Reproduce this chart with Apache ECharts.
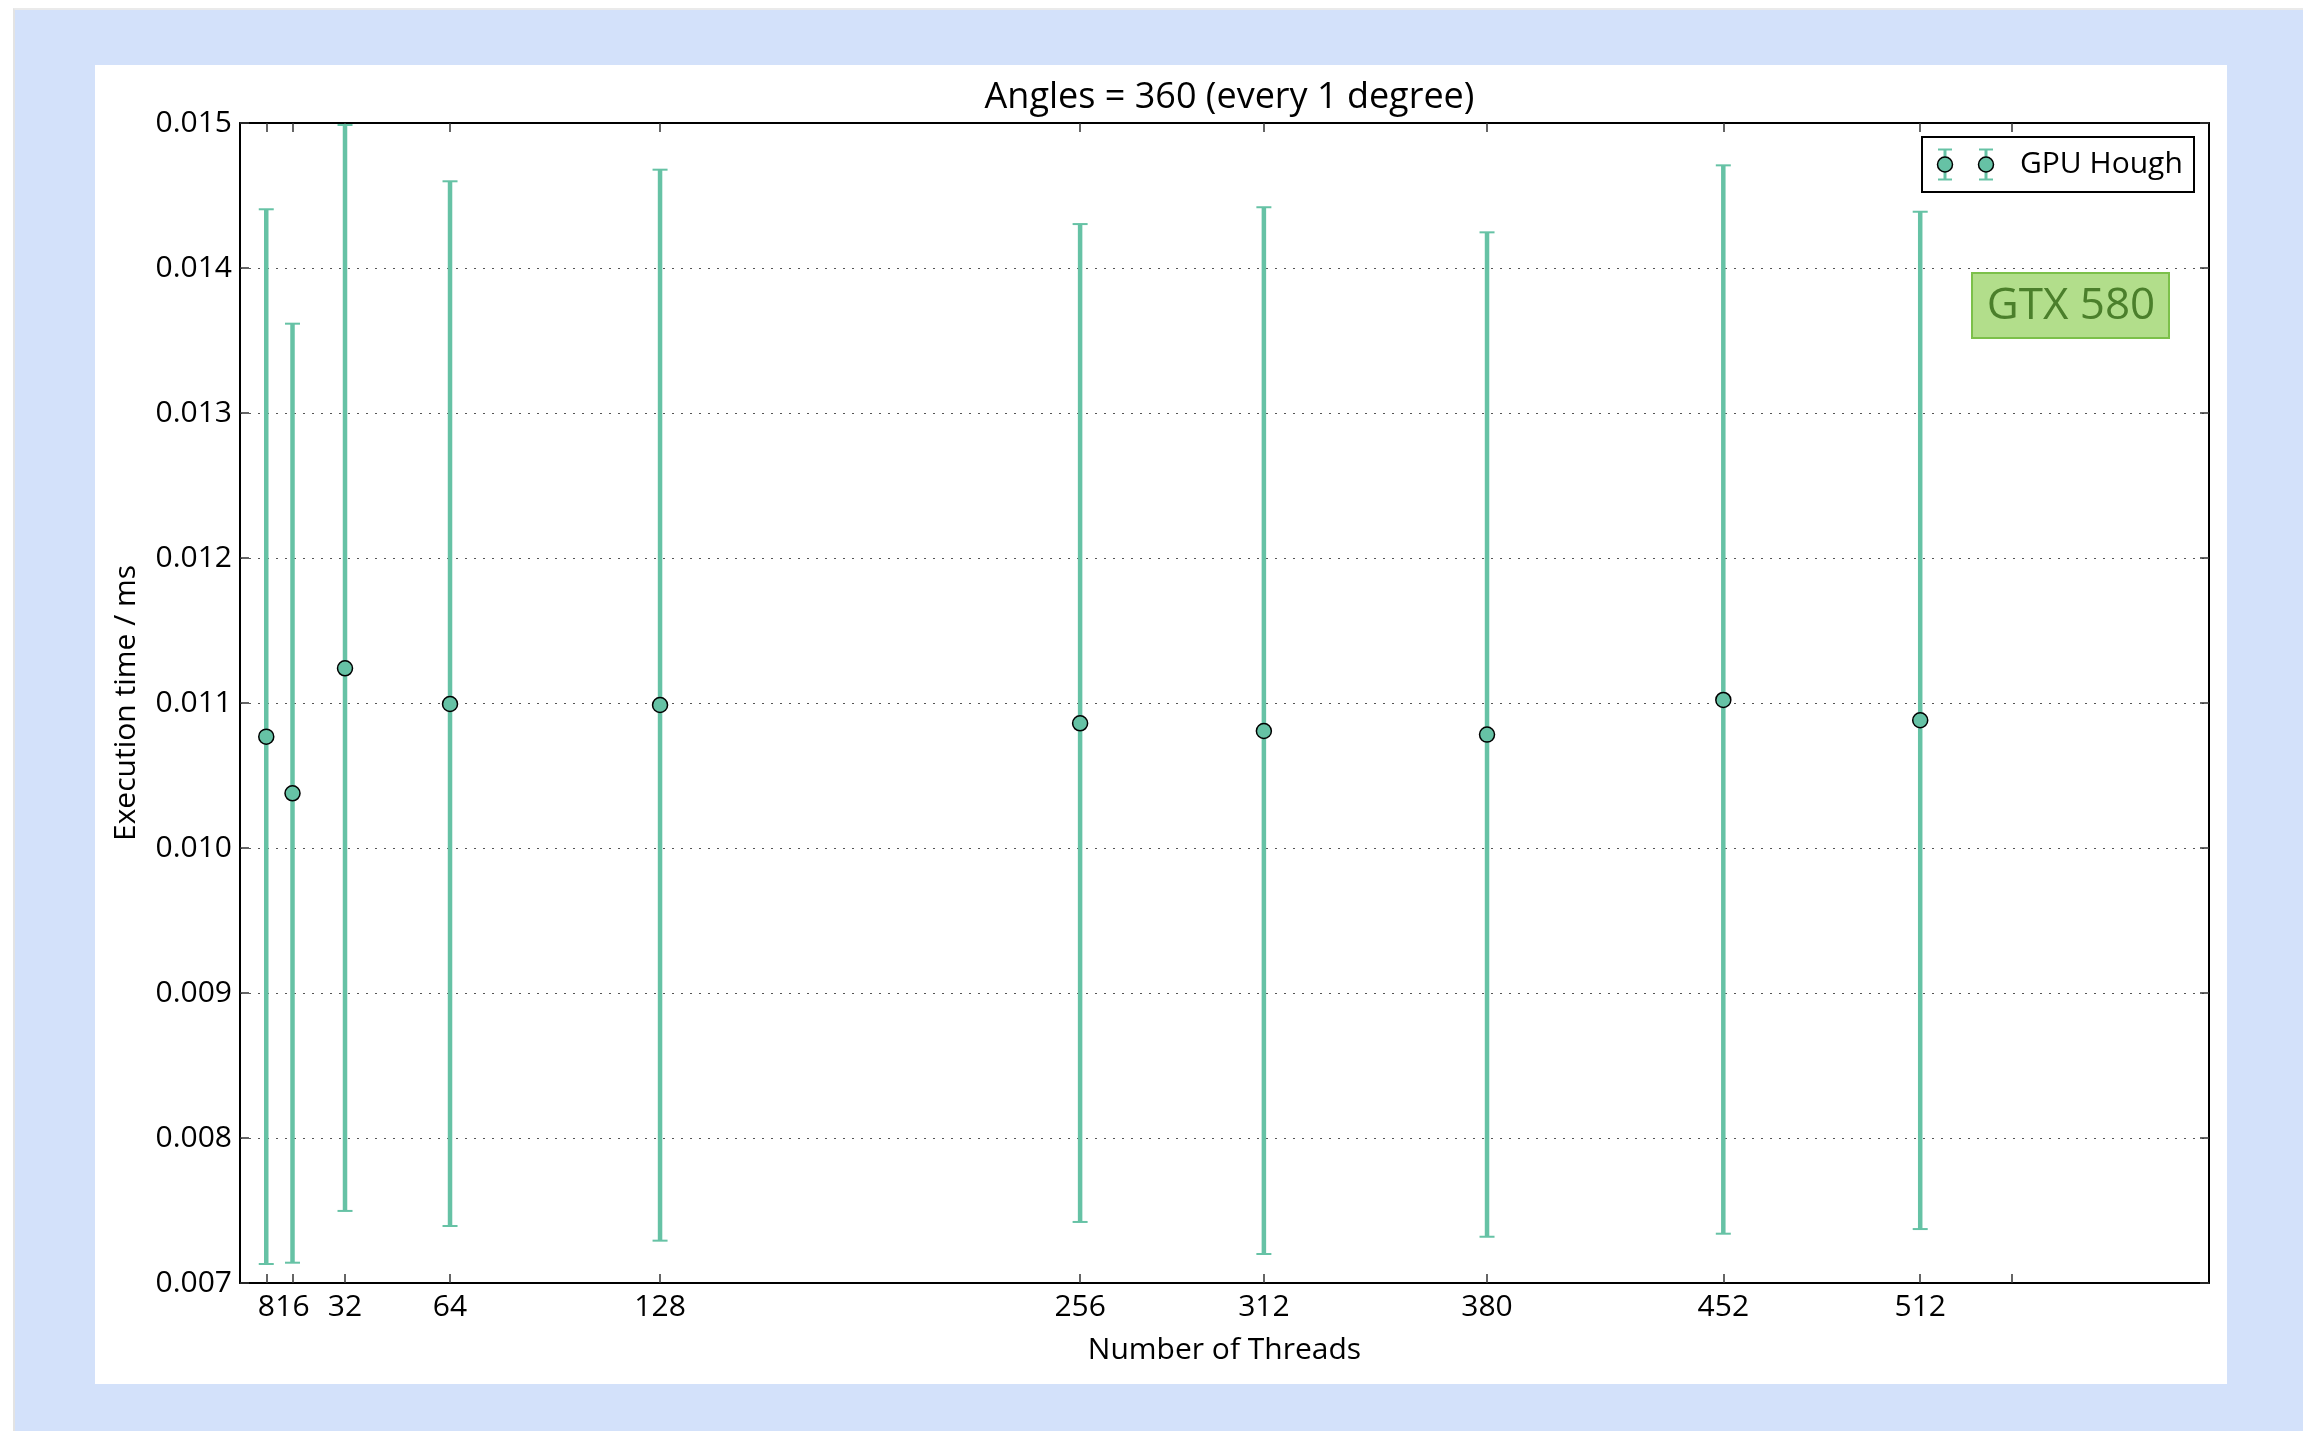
<!DOCTYPE html>
<html>
<head>
<meta charset="utf-8">
<script src="https://cdn.jsdelivr.net/npm/echarts@6/dist/echarts.min.js"></script>
<style>
  html, body { margin: 0; padding: 0; width: 2303px; height: 1431px; overflow: hidden; background: #ffffff; }
  #bg { position: absolute; left: 13px; top: 8px; right: 0; bottom: 0; background: #d3e1fa; border-left: 2px solid #e3e3e3; border-top: 2px solid #eaeaea; }
  #chart { position: absolute; left: 95px; top: 65px; width: 2132px; height: 1319px; background: #ffffff; }
</style>
</head>
<body>
<div id="bg"></div>
<div id="chart"></div>
<script>
// ---- data ----
const threads   = [8, 16, 32, 64, 128, 256, 312, 380, 452, 512];
const meanTime  = [0.010768, 0.010377, 0.011239, 0.010993, 0.010986, 0.010860, 0.010807, 0.010782, 0.011021, 0.010881];
const errLow    = [0.007131, 0.007140, 0.007497, 0.007393, 0.007292, 0.007421, 0.007200, 0.007319, 0.007340, 0.007372];
const errHigh   = [0.014405, 0.013616, 0.014986, 0.014598, 0.014678, 0.014303, 0.014419, 0.014246, 0.014708, 0.014388];
const xTickValues  = [8, 16, 32, 64, 128, 256, 312, 380, 452, 512, 540];
const xLabelValues = [8, 16, 32, 64, 128, 256, 312, 380, 452, 512];
const yTickLabels  = ['0.007', '0.008', '0.009', '0.010', '0.011', '0.012', '0.013', '0.014', '0.015'];
const seriesName = 'GPU Hough';
const titleText = 'Angles = 360 (every 1 degree)';
const boxText = 'GTX 580';

const FONT = 'Open Sans';
const TEAL = '#66c2a5';

const chart = echarts.init(document.getElementById('chart'), null, { renderer: 'canvas' });

const barData = threads.map((t, i) => [t, errLow[i], errHigh[i]]);
const pointData = threads.map((t, i) => [t, meanTime[i]]);

function yLabel(v) {
  const idx = Math.round((v - 0.007) / 0.001);
  return yTickLabels[idx] !== undefined ? yTickLabels[idx] : v.toFixed(3);
}

const tickStyle = { show: true, inside: true, length: 9, lineStyle: { color: '#333', width: 1.5 } };
const axisLineStyle = { show: true, onZero: false, lineStyle: { color: '#000', width: 2 } };

// legend geometry (chart-local pixels)
const lgX = 1827, lgY = 72, lgW = 272, lgH = 55;
const lgCy = lgY + lgH / 2;
function legendIcon(cx) {
  return [
    { type: 'line', shape: { x1: cx, y1: lgCy - 15, x2: cx, y2: lgCy + 15 }, style: { stroke: TEAL, lineWidth: 3 } },
    { type: 'line', shape: { x1: cx - 7, y1: lgCy - 15, x2: cx + 7, y2: lgCy - 15 }, style: { stroke: TEAL, lineWidth: 2 } },
    { type: 'line', shape: { x1: cx - 7, y1: lgCy + 15, x2: cx + 7, y2: lgCy + 15 }, style: { stroke: TEAL, lineWidth: 2 } },
    { type: 'circle', shape: { cx: cx, cy: lgCy, r: 7.5 }, style: { fill: TEAL, stroke: '#000', lineWidth: 1.5 } }
  ];
}

const option = {
  backgroundColor: '#ffffff',
  animation: false,
  textStyle: { fontFamily: FONT },
  title: {
    text: titleText,
    left: 1129.5,
    textAlign: 'center',
    top: 10,
    textStyle: { fontFamily: FONT, fontSize: 36, fontWeight: 'normal', color: '#000' }
  },
  grid: { left: 145, top: 58, right: 18, bottom: 101, show: false },
  xAxis: [
    {
      type: 'value', min: 0, max: 600, position: 'bottom',
      name: 'Number of Threads', nameLocation: 'middle', nameGap: 52,
      nameTextStyle: { fontFamily: FONT, fontSize: 30, color: '#000' },
      axisLine: axisLineStyle,
      axisTick: Object.assign({ customValues: xTickValues }, tickStyle),
      axisLabel: { customValues: xLabelValues, fontFamily: FONT, fontSize: 30, color: '#000', margin: 9 },
      splitLine: { show: false }
    },
    {
      type: 'value', min: 0, max: 600, position: 'top',
      axisLine: axisLineStyle,
      axisTick: Object.assign({ customValues: xTickValues }, tickStyle),
      axisLabel: { show: false },
      splitLine: { show: false }
    }
  ],
  yAxis: [
    {
      type: 'value', min: 0.007, max: 0.015, interval: 0.001, position: 'left',
      name: 'Execution time / ms', nameLocation: 'middle', nameGap: 99, nameRotate: 90,
      nameTextStyle: { fontFamily: FONT, fontSize: 30, color: '#000' },
      axisLine: axisLineStyle,
      axisTick: tickStyle,
      axisLabel: { formatter: yLabel, fontFamily: FONT, fontSize: 30, color: '#000', margin: 8 },
      splitLine: { show: true, lineStyle: { color: '#555', width: 1.2, type: [2, 7] } }
    },
    {
      type: 'value', min: 0.007, max: 0.015, interval: 0.001, position: 'right',
      axisLine: axisLineStyle,
      axisTick: tickStyle,
      axisLabel: { show: false },
      splitLine: { show: false }
    }
  ],
  series: [
    {
      type: 'custom',
      name: seriesName,
      xAxisIndex: 0, yAxisIndex: 0,
      clip: false,
      z: 2,
      encode: { x: 0, y: [1, 2] },
      data: barData,
      renderItem: function (params, api) {
        const x = api.value(0);
        const pLo = api.coord([x, api.value(1)]);
        const pHi = api.coord([x, api.value(2)]);
        const cw = 7.5;
        return {
          type: 'group',
          children: [
            { type: 'line', shape: { x1: pLo[0], y1: pLo[1], x2: pHi[0], y2: pHi[1] }, style: { stroke: TEAL, lineWidth: 4.5 } },
            { type: 'line', shape: { x1: pLo[0] - cw, y1: pLo[1], x2: pLo[0] + cw, y2: pLo[1] }, style: { stroke: TEAL, lineWidth: 2 } },
            { type: 'line', shape: { x1: pHi[0] - cw, y1: pHi[1], x2: pHi[0] + cw, y2: pHi[1] }, style: { stroke: TEAL, lineWidth: 2 } }
          ]
        };
      }
    },
    {
      type: 'scatter',
      name: seriesName,
      xAxisIndex: 0, yAxisIndex: 0,
      z: 3,
      symbol: 'circle',
      symbolSize: 15,
      itemStyle: { color: TEAL, borderColor: '#000', borderWidth: 1.5, opacity: 1 },
      data: pointData
    }
  ],
  graphic: [
    {
      type: 'group',
      z: 10,
      children: [
        { type: 'rect', shape: { x: lgX, y: lgY, width: lgW, height: lgH }, style: { fill: '#fff', stroke: '#000', lineWidth: 2 } }
      ].concat(legendIcon(1850)).concat(legendIcon(1891)).concat([
        { type: 'text', x: 1925, y: lgCy, style: { text: seriesName, fontFamily: FONT, fontSize: 30, fill: '#000', verticalAlign: 'middle', align: 'left' } }
      ])
    },
    {
      type: 'group',
      z: 10,
      children: [
        { type: 'rect', shape: { x: 1877, y: 208, width: 197, height: 65 }, style: { fill: '#b2de8b', stroke: '#7cc04a', lineWidth: 2 } },
        { type: 'text', x: 1976, y: 241, style: { text: boxText, fontFamily: FONT, fontSize: 44, fill: '#4b7f2b', verticalAlign: 'middle', align: 'center' } }
      ]
    }
  ]
};

chart.setOption(option);
</script>
</body>
</html>
